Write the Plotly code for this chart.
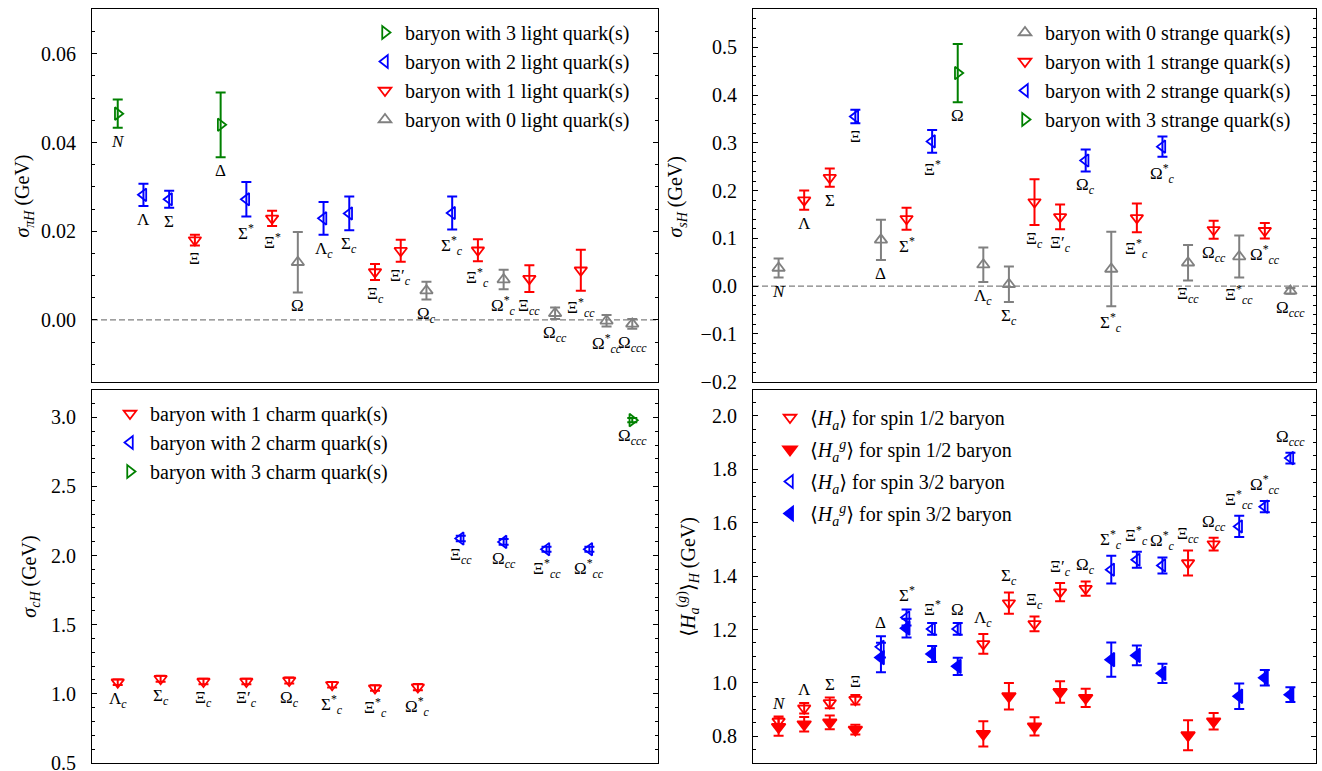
import plotly.graph_objects as go

SERIF = "Liberation Serif, DejaVu Serif, serif"

# ---------------- data ----------------
baryons = ["<i>N</i>", "Λ", "Σ", "Ξ", "Δ", "Σ<sup>*</sup>", "Ξ<sup>*</sup>", "Ω",
           "Λ<sub><i>c</i></sub>", "Σ<sub><i>c</i></sub>", "Ξ<sub><i>c</i></sub>",
           "Ξ′<sub><i>c</i></sub>", "Ω<sub><i>c</i></sub>", "Σ<sup>*</sup><sub><i>c</i></sub>",
           "Ξ<sup>*</sup><sub><i>c</i></sub>", "Ω<sup>*</sup><sub><i>c</i></sub>",
           "Ξ<sub><i>cc</i></sub>", "Ω<sub><i>cc</i></sub>", "Ξ<sup>*</sup><sub><i>cc</i></sub>",
           "Ω<sup>*</sup><sub><i>cc</i></sub>", "Ω<sub><i>ccc</i></sub>"]

n_light = [3, 2, 2, 1, 3, 2, 1, 0, 2, 2, 1, 1, 0, 2, 1, 0, 1, 0, 1, 0, 0]
n_strange = [0, 1, 1, 2, 0, 1, 2, 3, 0, 0, 1, 1, 2, 0, 1, 2, 0, 1, 0, 1, 0]
spin = ["1/2"] * 4 + ["3/2"] * 4 + ["1/2"] * 5 + ["3/2"] * 3 + ["1/2"] * 2 + ["3/2"] * 3

sigma_pi = [0.0465, 0.0282, 0.0272, 0.0180, 0.0440, 0.0272, 0.0229, 0.0130, 0.0229, 0.0240,
            0.0108, 0.0156, 0.0066, 0.0241, 0.0157, 0.0091, 0.0093, 0.0015, 0.0112, -0.0002, -0.0009]
sigma_pi_err = [0.0032, 0.0025, 0.0019, 0.0012, 0.0073, 0.0039, 0.0017, 0.0068, 0.0037, 0.0038,
                0.0018, 0.0025, 0.0020, 0.0037, 0.0025, 0.0022, 0.0030, 0.0013, 0.0046, 0.0013, 0.0011]

sigma_s = [0.038, 0.180, 0.227, 0.355, 0.097, 0.141, 0.303, 0.446, 0.045, 0.004,
           0.176, 0.145, 0.263, 0.036, 0.143, 0.292, 0.049, 0.118, 0.062, 0.116, -0.010]
sigma_s_err = [0.020, 0.020, 0.019, 0.014, 0.042, 0.023, 0.024, 0.061, 0.036, 0.037,
               0.048, 0.026, 0.023, 0.078, 0.030, 0.021, 0.037, 0.019, 0.044, 0.016, 0.006]

charm_baryons = baryons[8:]
n_charm = [1, 1, 1, 1, 1, 1, 1, 1, 2, 2, 2, 2, 3]
sigma_c = [1.084, 1.109, 1.089, 1.089, 1.096, 1.065, 1.041, 1.048, 2.123, 2.099, 2.046, 2.046, 2.980]
sigma_c_err = [0.020, 0.022, 0.020, 0.020, 0.022, 0.020, 0.020, 0.022, 0.020, 0.020, 0.018, 0.018, 0.015]

H_a = [0.856, 0.905, 0.925, 0.937, 1.135, 1.245, 1.202, 1.202, 1.146, 1.299, 1.221,
       1.340, 1.353, 1.424, 1.461, 1.440, 1.449, 1.520, 1.586, 1.660, 1.842]
H_a_err = [0.018, 0.020, 0.020, 0.018, 0.040, 0.030, 0.022, 0.022, 0.037, 0.040, 0.028,
           0.034, 0.027, 0.052, 0.030, 0.030, 0.047, 0.024, 0.040, 0.021, 0.020]
H_g = [0.835, 0.845, 0.852, 0.825, 1.095, 1.205, 1.108, 1.062, 0.809, 0.950, 0.837,
       0.966, 0.944, 1.087, 1.103, 1.036, 0.804, 0.856, 0.950, 1.019, 0.956]
H_g_err = [0.033, 0.027, 0.026, 0.018, 0.055, 0.035, 0.030, 0.032, 0.047, 0.050, 0.034,
           0.040, 0.034, 0.064, 0.037, 0.036, 0.056, 0.031, 0.048, 0.029, 0.028]

COL = {"green": "#008000", "blue": "#0000ff", "red": "#ff0000", "gray": "#808080"}

fig = go.Figure()


def sel(groups, g):
    return [i for i, v in enumerate(groups) if v == g]


def add_series(xs, ys, es, color, symbol, name, xa, ya, legend, size=11):
    fig.add_trace(go.Scatter(
        x=xs, y=ys, mode="markers", name=name, legend=legend, xaxis=xa, yaxis=ya,
        legendgroup=name,
        marker=dict(symbol=symbol, size=size, color=COL[color], line=dict(width=1.8, color=COL[color])),
        error_y=dict(type="data", array=es, color=COL[color], thickness=2, width=5),
    ))


# top-left: sigma_piH
for g, c, s in [(3, "green", "triangle-right-open"), (2, "blue", "triangle-left-open"),
                (1, "red", "triangle-down-open"), (0, "gray", "triangle-up-open")]:
    idx = sel(n_light, g)
    add_series(idx, [sigma_pi[i] for i in idx], [sigma_pi_err[i] for i in idx], c, s,
               f"baryon with {g} light quark(s)", "x", "y", "legend")

# top-right: sigma_sH
for g, c, s in [(0, "gray", "triangle-up-open"), (1, "red", "triangle-down-open"),
                (2, "blue", "triangle-left-open"), (3, "green", "triangle-right-open")]:
    idx = sel(n_strange, g)
    add_series(idx, [sigma_s[i] for i in idx], [sigma_s_err[i] for i in idx], c, s,
               f"baryon with {g} strange quark(s)", "x2", "y2", "legend2")

# bottom-left: sigma_cH
for g, c, s in [(1, "red", "triangle-down-open"), (2, "blue", "triangle-left-open"),
                (3, "green", "triangle-right-open")]:
    idx = sel(n_charm, g)
    add_series(idx, [sigma_c[i] for i in idx], [sigma_c_err[i] for i in idx], c, s,
               f"baryon with {g} charm quark(s)", "x3", "y3", "legend3")

# bottom-right: <H_a>
for sp, c, so, sf in [("1/2", "red", "triangle-down-open", "triangle-down"),
                      ("3/2", "blue", "triangle-left-open", "triangle-left")]:
    idx = sel(spin, sp)
    add_series(idx, [H_a[i] for i in idx], [H_a_err[i] for i in idx], c, so,
               f"⟨<i>H</i><sub><i>a</i></sub>⟩ for spin {sp} baryon", "x4", "y4", "legend4")
    add_series(idx, [H_g[i] for i in idx], [H_g_err[i] for i in idx], c, sf,
               f"⟨<i>H</i><sub><i>a</i></sub><sup><i>g</i></sup>⟩ for spin {sp} baryon", "x4", "y4", "legend4",
               size=12)

# ---------------- labels ----------------
ann = []
LBL = dict(family=SERIF, size=17, color="black")


def add_labels(xr, yr, xs, ys, texts, below=True):
    for x, y, t in zip(xs, ys, texts):
        ann.append(dict(x=x, y=y, xref=xr, yref=yr, text=t, showarrow=False,
                        yanchor="top" if below else "bottom", yshift=-2 if below else 2, font=LBL))


n = len(baryons)
add_labels("x", "y", list(range(n)), [sigma_pi[i] - sigma_pi_err[i] for i in range(n)], baryons)
add_labels("x2", "y2", list(range(n)), [sigma_s[i] - sigma_s_err[i] for i in range(n)], baryons)
add_labels("x3", "y3", list(range(len(charm_baryons))),
           [sigma_c[i] - sigma_c_err[i] for i in range(len(charm_baryons))], charm_baryons)
add_labels("x4", "y4", list(range(n)),
           [max(H_a[i] + H_a_err[i], H_g[i] + H_g_err[i]) for i in range(n)], baryons, below=False)

TITLE = dict(family=SERIF, size=20, color="black")
for xp, yp, t in [(24 / 1322, 0.745, "<i>σ</i><sub><i>πH</i></sub> (GeV)"),
                  (677 / 1322, 0.745, "<i>σ</i><sub><i>sH</i></sub> (GeV)"),
                  (31 / 1322, 0.252, "<i>σ</i><sub><i>cH</i></sub> (GeV)"),
                  (688 / 1322, 0.252, "⟨<i>H</i><sub><i>a</i></sub><sup>(<i>g</i>)</sup>⟩<sub><i>H</i></sub> (GeV)")]:
    ann.append(dict(x=xp, y=yp, xref="paper", yref="paper", text=t, textangle=-90, showarrow=False,
                    xanchor="center", yanchor="middle", font=TITLE))

# zero lines
for xr, yr in [("x domain", "y"), ("x2 domain", "y2")]:
    fig.add_shape(type="line", xref=xr, yref=yr, x0=0, x1=1, y0=0, y1=0,
                  line=dict(color="#808080", width=1.3, dash="6px,3px"), layer="below")

# ---------------- axes ----------------
XL = [92 / 1322, 658 / 1322]
XR = [753 / 1322, 1316 / 1322]
YT = [(771 - 382) / 771, (771 - 9) / 771]
YB = [(771 - 763) / 771, (771 - 390) / 771]


def xax(domain, rng, anchor):
    return dict(domain=domain, range=rng, anchor=anchor, showticklabels=False, ticks="",
                showline=True, mirror=True, linecolor="black", linewidth=1.2,
                showgrid=False, zeroline=False, automargin=False)


def yax(domain, rng, anchor, dtick, fmt, mdt):
    return dict(domain=domain, range=rng, anchor=anchor, dtick=dtick, tick0=0, tickformat=fmt,
                ticks="inside", ticklen=5, tickwidth=1, tickcolor="black",
                mirror="allticks", showline=True, linecolor="black", linewidth=1.2,
                showgrid=False, zeroline=False, ticklabelstandoff=11, automargin=False,
                ticklabeloverflow="allow",
                tickfont=dict(family=SERIF, size=20, color="black"),
                minor=dict(ticks="inside", ticklen=3, tickwidth=1, tickcolor="black", dtick=mdt, tick0=0,
                           showgrid=False))


LEG = dict(bgcolor="rgba(0,0,0,0)", font=dict(family=SERIF, size=20, color="black"),
           xanchor="left", yanchor="top", traceorder="normal", tracegroupgap=0)

fig.update_layout(
    width=1322, height=771, autosize=False,
    margin=dict(l=0, r=0, t=0, b=0, pad=0, autoexpand=False),
    paper_bgcolor="white", plot_bgcolor="white",
    font=dict(family=SERIF, size=20, color="black"),
    xaxis=xax(XL, [-1, 21], "y"), yaxis=yax(YT, [-0.014, 0.0701], "x", 0.02, ".2f", 0.005),
    xaxis2=xax(XR, [-1, 21], "y2"), yaxis2=yax(YT, [-0.2005, 0.58], "x2", 0.1, ".1f", 0.02),
    xaxis3=xax(XL, [-0.6, 12.6], "y3"), yaxis3=yax(YB, [0.499, 3.198], "x3", 0.5, ".1f", 0.1),
    xaxis4=xax(XR, [-1, 21], "y4"), yaxis4=yax(YB, [0.70, 2.097], "x4", 0.2, ".1f", 0.05),
    legend=dict(LEG, x=365 / 1322, y=(771 - 13) / 771),
    legend2=dict(LEG, x=1005 / 1322, y=(771 - 13) / 771),
    legend3=dict(LEG, x=110 / 1322, y=(771 - 394) / 771),
    legend4=dict(LEG, x=770 / 1322, y=(771 - 398) / 771, traceorder="grouped", tracegroupgap=3),
    annotations=ann,
    showlegend=True,
)

fig.write_html(
    "out.html",
    config={"responsive": False, "displayModeBar": False},
    post_script="document.documentElement.style.overflow='hidden';"
                "document.body.style.margin='0';document.body.style.overflow='hidden';",
)
